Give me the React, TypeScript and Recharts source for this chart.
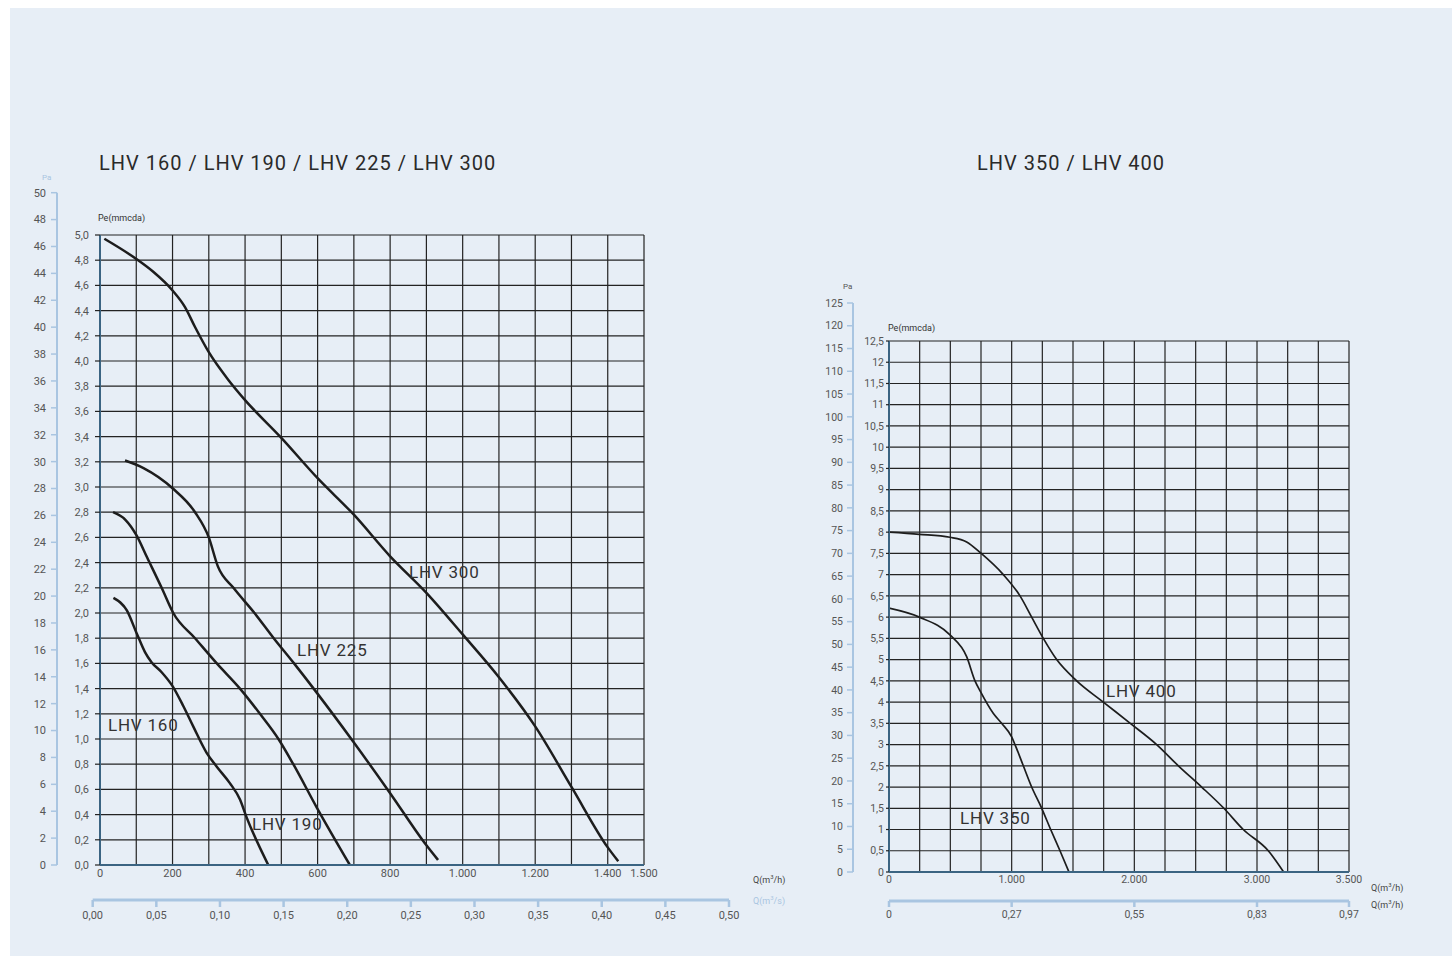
import React from 'react';
import { LineChart, Line, XAxis, YAxis, CartesianGrid, ReferenceDot } from 'recharts';

// left diagram: LHV 160 / 190 / 225 / 300  (Q in m3/h, Pe in mmcda)
const lhv160Q = [37, 74, 101, 124, 142, 170, 200, 230, 257, 294, 322, 358, 386, 404, 464];
const lhv160P = [2.12, 2.02, 1.84, 1.69, 1.61, 1.53, 1.42, 1.26, 1.1, 0.89, 0.78, 0.65, 0.52, 0.38, 0];

const lhv190Q = [36, 70, 100, 130, 170, 202, 262, 322, 386, 441, 492, 533, 597, 689];
const lhv190P = [2.8, 2.74, 2.62, 2.44, 2.2, 2.0, 1.8, 1.6, 1.4, 1.2, 1.0, 0.8, 0.46, 0];

const lhv225Q = [69, 120, 200, 262, 300, 325, 368, 426, 479, 535, 597, 698, 800, 899, 932];
const lhv225P = [3.21, 3.15, 2.99, 2.8, 2.6, 2.37, 2.2, 2.0, 1.8, 1.6, 1.37, 0.98, 0.57, 0.16, 0.04];

const lhv300Q = [12, 100, 146, 200, 234, 262, 300, 354, 400, 500, 600, 700, 800, 900, 1000, 1100, 1200, 1300, 1400, 1429];
const lhv300P = [4.97, 4.81, 4.71, 4.56, 4.43, 4.27, 4.07, 3.85, 3.69, 3.39, 3.07, 2.78, 2.45, 2.16, 1.83, 1.49, 1.1, 0.62, 0.14, 0.03];

// right diagram: LHV 350 / 400
const lhv350Q = [0, 247, 497, 633, 701, 747, 851, 918, 1000, 1027, 1095, 1163, 1245, 1318, 1394, 1467];
const lhv350P = [6.21, 6.0, 5.58, 5.07, 4.5, 4.24, 3.73, 3.5, 3.18, 3.0, 2.5, 2.0, 1.5, 1.0, 0.5, 0];

const lhv400Q = [0, 247, 497, 633, 747, 932, 1068, 1163, 1258, 1367, 1530, 1747, 1967, 2182, 2359, 2549, 2730, 2888, 3092, 3217];
const lhv400P = [8.0, 7.95, 7.88, 7.77, 7.51, 7.0, 6.5, 6.0, 5.5, 5.0, 4.5, 4.0, 3.5, 3.0, 2.5, 2.0, 1.5, 1.0, 0.5, 0];

// ticks
const leftQTicks = [0, 100, 200, 300, 400, 500, 600, 700, 800, 900, 1000, 1100, 1200, 1300, 1400, 1500];
const leftQLabelled = [0, 200, 400, 600, 800, 1000, 1200, 1400, 1500];
const leftPeTicks = [0, 0.2, 0.4, 0.6, 0.8, 1, 1.2, 1.4, 1.6, 1.8, 2, 2.2, 2.4, 2.6, 2.8, 3, 3.2, 3.4, 3.6, 3.8, 4, 4.2, 4.4, 4.6, 4.8, 5];
const leftPaTicks = [0, 2, 4, 6, 8, 10, 12, 14, 16, 18, 20, 22, 24, 26, 28, 30, 32, 34, 36, 38, 40, 42, 44, 46, 48, 50];
const leftQsTicks = [0, 0.05, 0.1, 0.15, 0.2, 0.25, 0.3, 0.35, 0.4, 0.45, 0.5];

const rightQTicks = [0, 250, 500, 750, 1000, 1250, 1500, 1750, 2000, 2250, 2500, 2750, 3000, 3250, 3500, 3750];
const rightQLabelAt = [0, 1000, 2000, 3000, 3750];
const rightQLabelText = ['0', '1.000', '2.000', '3.000', '3.500'];
const rightQsLabelText = ['0', '0,27', '0,55', '0,83', '0,97'];
const rightPeTicks = [0, 0.5, 1, 1.5, 2, 2.5, 3, 3.5, 4, 4.5, 5, 5.5, 6, 6.5, 7, 7.5, 8, 8.5, 9, 9.5, 10, 10.5, 11, 11.5, 12, 12.5];
const rightPaTicks = [0, 5, 10, 15, 20, 25, 30, 35, 40, 45, 50, 55, 60, 65, 70, 75, 80, 85, 90, 95, 100, 105, 110, 115, 120, 125];

// curve names and where their captions sit (Q, Pe)
const leftNames = ['LHV 300', 'LHV 225', 'LHV 160', 'LHV 190'];
const leftNameQ = [852, 543, 22, 419];
const leftNameP = [2.33, 1.71, 1.11, 0.33];
const rightNames = ['LHV 400', 'LHV 350'];
const rightNameQ = [1769, 579];
const rightNameP = [4.26, 1.27];

const zip = (q: number[], p: number[]) => q.map((v, i) => ({ q: v, p: p[i] }));

const BG = '#e7eef6';
const INK = '#1d1d1d';
const GRID = '#232323';
const AXIS = '#3b6482';
const PA_BLUE = '#a9c5e1';
const TICK_TXT = '#555';

const thousands = (v: number) =>
  v >= 1000 ? `${Math.floor(v / 1000)}.${String(v % 1000).padStart(3, '0')}` : String(v);

const CurveLabel = (props: any) => {
  const { viewBox, value } = props;
  return (
    <text x={viewBox.x} y={viewBox.y} dy="0.36em" fontSize={17} letterSpacing={0.8} fill="#333" textAnchor="start">
      {value}
    </text>
  );
};

const abs = (left: number, top: number): React.CSSProperties => ({ position: 'absolute', left, top });

const smallText = (left: number, top: number, color: string, size = 8.5): React.CSSProperties => ({
  position: 'absolute',
  left,
  top,
  fontSize: size,
  lineHeight: `${size + 2}px`,
  color,
  whiteSpace: 'nowrap',
});

const titleStyle = (left: number): React.CSSProperties => ({
  ...abs(left, 150),
  fontSize: 20,
  lineHeight: '26px',
  letterSpacing: 1,
  color: '#2a2a2a',
  whiteSpace: 'nowrap',
});

const stub = [
  { q: 0, p: 0 },
  { q: 1, p: 1 },
];

function LeftPanel() {
  const s160 = zip(lhv160Q, lhv160P);
  const s190 = zip(lhv190Q, lhv190P);
  const s225 = zip(lhv225Q, lhv225P);
  const s300 = zip(lhv300Q, lhv300P);
  return (
    <>
      <div style={titleStyle(99)}>LHV 160 / LHV 190 / LHV 225 / LHV 300</div>

      {/* Pa scale */}
      <div style={smallText(42, 173, PA_BLUE, 8)}>Pa</div>
      <div style={abs(0, 170)}>
        <LineChart width={70} height={705} data={stub} margin={{ top: 22.7, right: 5, bottom: 10, left: 0 }}>
          <XAxis hide height={0} type="number" dataKey="q" domain={[0, 1]} />
          <YAxis
            type="number"
            dataKey="p"
            domain={[0, 50]}
            ticks={leftPaTicks}
            interval={0}
            allowDataOverflow
            width={57}
            axisLine={{ stroke: PA_BLUE, strokeWidth: 2 }}
            tickLine={{ stroke: PA_BLUE, strokeWidth: 1.5 }}
            tickSize={6}
            tickMargin={5}
            tick={{ fontSize: 11, fill: TICK_TXT }}
          />
        </LineChart>
      </div>

      {/* main diagram */}
      <div style={smallText(98, 213, '#333', 9)}>Pe(mmcda)</div>
      <div style={abs(40, 210)}>
        <LineChart width={620} height={690} margin={{ top: 25, right: 16, bottom: 5, left: 0 }}>
          <CartesianGrid stroke={GRID} strokeWidth={1.2} />
          <XAxis
            type="number"
            dataKey="q"
            domain={[0, 1500]}
            ticks={leftQTicks}
            interval={0}
            allowDataOverflow
            height={30}
            tickLine={false}
            tickSize={3}
            tickMargin={1}
            axisLine={{ stroke: AXIS, strokeWidth: 2 }}
            tick={{ fontSize: 11, fill: TICK_TXT }}
            tickFormatter={(v: number) => (leftQLabelled.includes(v) ? thousands(v) : '')}
          />
          <YAxis
            type="number"
            domain={[0, 5]}
            ticks={leftPeTicks}
            interval={0}
            allowDataOverflow
            width={60}
            axisLine={{ stroke: AXIS, strokeWidth: 2 }}
            tickLine={{ stroke: GRID, strokeWidth: 1.2 }}
            tickSize={5}
            tickMargin={6}
            tick={{ fontSize: 11, fill: TICK_TXT }}
            tickFormatter={(v: number) => v.toFixed(1).replace('.', ',')}
          />
          <Line data={s160} dataKey="p" type="monotone" stroke={INK} strokeWidth={2.5} dot={false} isAnimationActive={false} />
          <Line data={s190} dataKey="p" type="monotone" stroke={INK} strokeWidth={2.5} dot={false} isAnimationActive={false} />
          <Line data={s225} dataKey="p" type="monotone" stroke={INK} strokeWidth={2.5} dot={false} isAnimationActive={false} />
          <Line data={s300} dataKey="p" type="monotone" stroke={INK} strokeWidth={2.5} dot={false} isAnimationActive={false} />
          {leftNames.map((n, i) => (
            <ReferenceDot
              key={n}
              x={leftNameQ[i]}
              y={leftNameP[i]}
              r={0}
              fill="none"
              stroke="none"
              label={<CurveLabel value={n} />}
            />
          ))}
        </LineChart>
      </div>
      <div style={smallText(753, 871, '#444', 9)}>
        Q(m<sup style={{ fontSize: 6 }}>3</sup>/h)
      </div>

      {/* m3/s scale */}
      <div style={smallText(753, 892, PA_BLUE, 9)}>
        Q(m<sup style={{ fontSize: 6 }}>3</sup>/s)
      </div>
      <div style={abs(62, 880)}>
        <LineChart width={700} height={60} data={stub} margin={{ top: 10, right: 33, bottom: 0, left: 30.7 }}>
          <YAxis hide width={0} type="number" dataKey="p" domain={[0, 1]} />
          <XAxis
            type="number"
            dataKey="q"
            domain={[0, 0.5]}
            ticks={leftQsTicks}
            interval={0}
            allowDataOverflow
            height={40}
            axisLine={{ stroke: PA_BLUE, strokeWidth: 3 }}
            tickLine={{ stroke: PA_BLUE, strokeWidth: 2.5 }}
            tickSize={7}
            tickMargin={4}
            tick={{ fontSize: 11, fill: TICK_TXT }}
            tickFormatter={(v: number) => v.toFixed(2).replace('.', ',')}
          />
        </LineChart>
      </div>
    </>
  );
}

function RightPanel() {
  const s350 = zip(lhv350Q, lhv350P);
  const s400 = zip(lhv400Q, lhv400P);
  return (
    <>
      <div style={titleStyle(977)}>LHV 350 / LHV 400</div>

      {/* Pa scale */}
      <div style={smallText(843, 282, '#555', 8)}>Pa</div>
      <div style={abs(792, 280)}>
        <LineChart width={75} height={602} data={stub} margin={{ top: 23, right: 5, bottom: 10, left: 0 }}>
          <XAxis hide height={0} type="number" dataKey="q" domain={[0, 1]} />
          <YAxis
            type="number"
            dataKey="p"
            domain={[0, 125]}
            ticks={rightPaTicks}
            interval={0}
            allowDataOverflow
            width={61}
            axisLine={{ stroke: PA_BLUE, strokeWidth: 2 }}
            tickLine={{ stroke: PA_BLUE, strokeWidth: 1.5 }}
            tickSize={6}
            tickMargin={4}
            tick={{ fontSize: 10.5, fill: TICK_TXT }}
          />
        </LineChart>
      </div>

      {/* main diagram */}
      <div style={smallText(888, 323, '#333', 9)}>Pe(mmcda)</div>
      <div style={abs(829, 316)}>
        <LineChart width={536} height={591} margin={{ top: 25, right: 16, bottom: 5, left: 0 }}>
          <CartesianGrid stroke={GRID} strokeWidth={1.2} />
          <XAxis
            type="number"
            dataKey="q"
            domain={[0, 3750]}
            ticks={rightQTicks}
            interval={0}
            allowDataOverflow
            height={30}
            tickLine={false}
            tickSize={3}
            tickMargin={1}
            axisLine={{ stroke: AXIS, strokeWidth: 2 }}
            tick={{ fontSize: 10.5, fill: TICK_TXT }}
            tickFormatter={(v: number) => {
              const k = rightQLabelAt.indexOf(v);
              return k >= 0 ? rightQLabelText[k] : '';
            }}
          />
          <YAxis
            type="number"
            domain={[0, 12.5]}
            ticks={rightPeTicks}
            interval={0}
            allowDataOverflow
            width={60}
            axisLine={{ stroke: AXIS, strokeWidth: 2 }}
            tickLine={{ stroke: GRID, strokeWidth: 1.2 }}
            tickSize={3}
            tickMargin={2}
            tick={{ fontSize: 10.5, fill: TICK_TXT }}
            tickFormatter={(v: number) => String(v).replace('.', ',')}
          />
          <Line data={s350} dataKey="p" type="monotone" stroke={INK} strokeWidth={1.7} dot={false} isAnimationActive={false} />
          <Line data={s400} dataKey="p" type="monotone" stroke={INK} strokeWidth={1.7} dot={false} isAnimationActive={false} />
          {rightNames.map((n, i) => (
            <ReferenceDot
              key={n}
              x={rightNameQ[i]}
              y={rightNameP[i]}
              r={0}
              fill="none"
              stroke="none"
              label={<CurveLabel value={n} />}
            />
          ))}
        </LineChart>
      </div>
      <div style={smallText(1371, 879, '#444', 9)}>
        Q(m<sup style={{ fontSize: 6 }}>3</sup>/h)
      </div>
      <div style={smallText(1371, 896, '#444', 9)}>
        Q(m<sup style={{ fontSize: 6 }}>3</sup>/h)
      </div>

      {/* second flow scale */}
      <div style={abs(829, 881)}>
        <LineChart width={540} height={60} data={stub} margin={{ top: 10, right: 20, bottom: 0, left: 60 }}>
          <YAxis hide width={0} type="number" dataKey="p" domain={[0, 1]} />
          <XAxis
            type="number"
            dataKey="q"
            domain={[0, 3750]}
            ticks={rightQLabelAt}
            interval={0}
            allowDataOverflow
            height={40}
            axisLine={{ stroke: PA_BLUE, strokeWidth: 3 }}
            tickLine={{ stroke: PA_BLUE, strokeWidth: 2.5 }}
            tickSize={6}
            tickMargin={4}
            tick={{ fontSize: 10.5, fill: TICK_TXT }}
            tickFormatter={(v: number) => rightQsLabelText[rightQLabelAt.indexOf(v)] ?? ''}
          />
        </LineChart>
      </div>
    </>
  );
}

export default function App() {
  return (
    <div
      style={{
        position: 'absolute',
        left: 0,
        top: 0,
        width: 1456,
        height: 958,
        background: '#fff',
        fontFamily: 'Roboto, sans-serif',
        overflow: 'hidden',
      }}
    >
      <div style={{ position: 'absolute', left: 10, top: 8, width: 1442, height: 948, background: BG }} />
      <LeftPanel />
      <RightPanel />
    </div>
  );
}
